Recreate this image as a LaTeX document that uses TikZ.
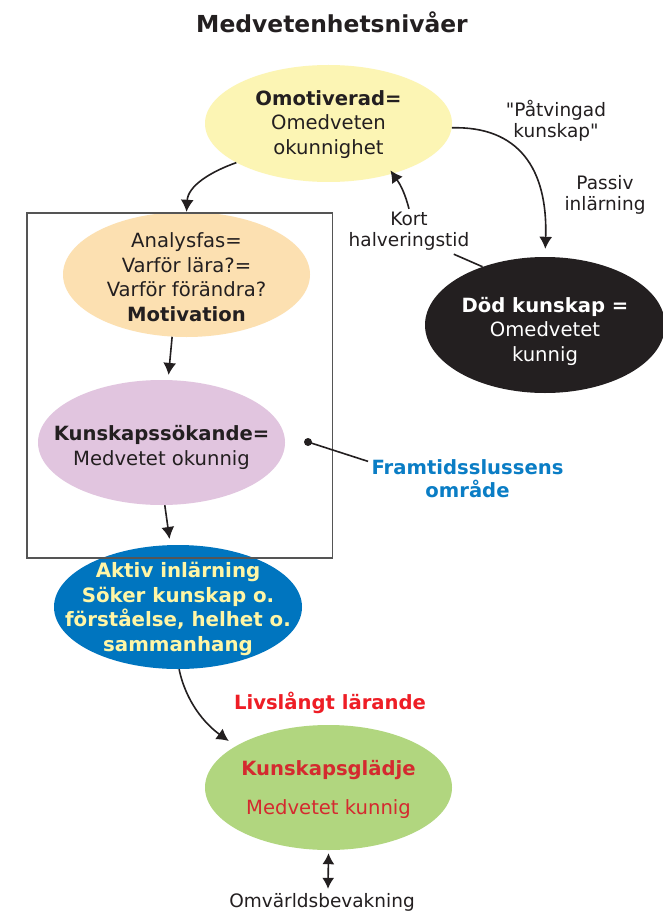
\documentclass[tikz,border=0pt]{standalone}
\usepackage{fontspec}
\setmainfont{DejaVu Sans}[Ligatures=TeXOff]
\usetikzlibrary{shapes.geometric,arrows.meta}
\definecolor{ink}{HTML}{231F20}
\definecolor{lemon}{HTML}{FCF5B4}
\definecolor{peach}{HTML}{FCE0B1}
\definecolor{lilac}{HTML}{E1C5DF}
\definecolor{sea}{HTML}{0075BF}
\definecolor{cream}{HTML}{FFF6A6}
\definecolor{leaf}{HTML}{B1D67F}
\definecolor{crimson}{HTML}{D42A2F}
\definecolor{signal}{HTML}{EE1D25}
\definecolor{azure}{HTML}{0A7DC5}
\definecolor{frame}{HTML}{555555}

\begin{document}
\begin{tikzpicture}[x=1pt,y=-1pt,
  bubble/.style={ellipse,inner sep=0pt},
  inside/.style={align=center,text=ink,inner sep=0pt,
    font=\fontsize{19.6}{24.5}\selectfont},
  lbl/.style={align=center,text=ink,font=\fontsize{18.5}{21}\selectfont},
  loud/.style={align=center,font=\fontsize{19.6}{23}\selectfont\bfseries},
  flow/.style={draw=ink,line width=1.6pt,-{Latex[length=12pt,width=13pt]}},
  twoway/.style={draw=ink,line width=1.6pt,
    {Latex[length=11pt,width=12pt]}-{Latex[length=11pt,width=12pt]}},
  plain/.style={draw=ink,line width=1.6pt}]
\useasboundingbox (0,0) rectangle (662,912);
\fill[white] (0,0) rectangle (662,912);

% title
\node[font=\fontsize{23.4}{28}\selectfont\bfseries,text=ink] (title) at (332,22) {Medvetenhetsnivåer};

% stages: fixed-size ellipses, text set in a centred label
\node[bubble,fill=lemon,minimum width=247pt,minimum height=117pt,
  label={[inside,yshift=-1pt]center:{\textbf{Omotiverad=}\\Omedveten\\okunnighet}}] (omot) at (328.5,123.5) {};
\node[bubble,fill=ink,minimum width=240pt,minimum height=136pt,
  label={[inside,text=white,yshift=-6pt]center:{\textbf{Död kunskap =}\\Omedvetet\\kunnig}}] (dead) at (545,325) {};
\node[bubble,fill=peach,minimum width=247pt,minimum height=125pt,
  label={[inside,yshift=-2.5pt]center:{Analysfas=\\Varför lära?=\\Varför förändra?\\\textbf{Motivation}}}] (why) at (186.5,274.5) {};
\node[bubble,fill=lilac,minimum width=247pt,minimum height=125pt,
  label={[inside,yshift=-5pt]center:{\textbf{Kunskapssökande=}\\Medvetet okunnig}}] (seek) at (161.5,442.5) {};
\node[bubble,fill=sea,minimum width=248pt,minimum height=124pt,
  label={[inside,text=cream,yshift=-2pt,font=\fontsize{19.8}{24.6}\selectfont\bfseries]center:{Aktiv inlärning\\Söker kunskap o.\\förståelse, helhet o.\\sammanhang}}] (active) at (178,607) {};
\node[bubble,fill=leaf,minimum width=247pt,minimum height=125pt,
  label={[inside,text=crimson,yshift=-2pt]center:{\textbf{Kunskapsglädje}\\[14pt]Medvetet kunnig}}] (joy) at (328.5,787.5) {};

% the framed zone
\node[draw=frame,line width=1.2pt,minimum width=305.5pt,minimum height=345pt,inner sep=0pt]
  (zone) at (179.75,385.5) {};

% labels
\node[lbl] (forced) at (556,121) {"Påtvingad\\kunskap"};
\node[lbl] (passive) at (605,195) {Passiv\\inlärning};
\node[lbl] (short) at (409,231.5) {Kort\\halveringstid};
\node[loud,text=azure] (zonelbl) at (467.5,479) {Framtidsslussens\\område};
\node[loud,text=signal] (life) at (330,703) {Livslångt lärande};
\node[lbl,inner sep=0pt] (watch) at (322,902) {Omvärldsbevakning};

% connectors
\draw[flow] (omot.203) .. controls (210,172) and (188,186) .. (why.north);
\draw[flow,shorten >=5pt] (why.257) -- (seek.84);
\draw[flow,shorten >=6pt] (seek.273) -- (active.97);
\coordinate (joyin) at ([xshift=24pt,yshift=46.5pt]joy.west);
\draw[flow] (active.271) .. controls (186,702) and (205,724) .. (joyin);
\draw[twoway] ([yshift=-3pt]joy.south) -- ([xshift=6pt,yshift=4pt]watch.north);
\draw[flow,shorten >=8pt] (omot.-2) .. controls (518,126) and (548,168) .. (dead.north);
\draw[plain] (dead.137) -- ([xshift=-19pt]short.south east);
\draw[flow,shorten >=-4pt] (short.north) to[bend right=10] (omot.-38);
\coordinate (pin) at (308,442);
\fill[ink] (pin) circle (4);
\draw[draw=ink,line width=1.6pt] (pin) -- ([yshift=-5pt]zonelbl.north west);
\end{tikzpicture}
\end{document}
